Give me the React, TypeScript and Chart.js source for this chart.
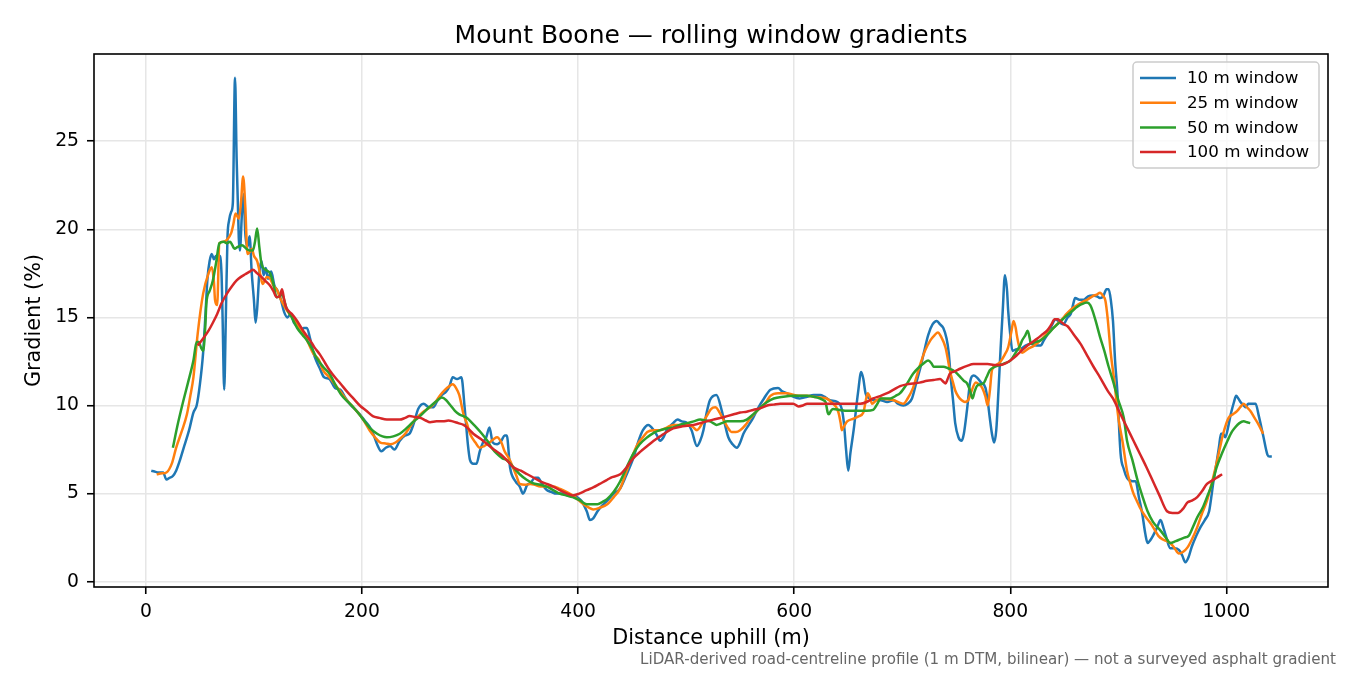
import { useEffect, useRef } from "react";
import Chart from "chart.js/auto";

// 10 m window (raw-ish, noisy)
const dist10 = [
  5, 8, 12, 16, 19, 22, 25, 28, 31, 35, 40, 44, 47, 50, 53, 55, 57, 59, 61, 63,
  65, 67, 68, 70, 71, 72.5, 74, 75.5, 77, 79, 80.5, 82.5, 84, 86, 87, 89, 90.5, 92, 94, 96,
  98, 100, 101.5, 103, 105, 107, 109, 111, 113, 116, 119, 122, 125, 128, 131, 134, 137, 140, 143, 146,
  149, 152, 155, 158, 161, 165, 170, 175, 180, 185, 190, 195, 198, 203, 207, 211, 214, 218, 222, 226,
  230, 235, 240, 244, 248, 252, 257, 262, 266, 270, 274, 278, 281, 284, 288, 292, 295, 298, 300, 303,
  306, 309, 312, 315, 318, 321, 325, 329, 332, 334, 337, 342, 346, 349, 353, 356, 360, 363, 367, 371,
  375, 380, 385, 390, 395, 399, 403, 408, 411, 414, 418, 422, 427, 433, 439, 445, 451, 456, 460, 465,
  470, 473, 476, 479, 482, 488, 492, 496, 501, 505, 510, 513, 516, 519, 522, 528, 533, 536, 539, 543,
  547, 550, 553, 558, 562, 567, 571, 578, 585, 589, 593, 599, 605, 612, 618, 624, 628, 633, 640, 644,
  646, 648, 650, 652, 655, 659, 662, 664, 666, 670, 675, 680, 686, 692, 696, 701, 705, 709, 713, 717,
  720, 724, 728, 732, 735, 738, 741, 743, 745, 747, 749, 752, 755, 757, 760, 763, 766, 769, 773, 777,
  779, 781, 783, 785, 787, 789, 791, 793, 795, 797, 798, 800, 802, 806, 809, 814, 819, 824, 828, 831,
  834, 838, 842, 846, 849, 853, 856, 858, 860, 864, 868, 872, 876, 880, 883, 886, 889, 891, 893, 895,
  897, 899, 902, 905, 908, 913, 916, 919, 922, 925, 927, 930, 932, 936, 939, 942, 944, 948, 952, 956,
  959, 962, 965, 968, 972, 976, 980, 984, 986, 988, 991, 993, 995, 997, 999, 1002, 1004, 1007, 1009, 1011,
  1013, 1016, 1018, 1020, 1023, 1027, 1030, 1034, 1038, 1040, 1042,
];
const grad10 = [
  6.3, 6.25, 6.2, 6.2, 5.8, 5.9, 6.0, 6.3, 6.8, 7.6, 8.6, 9.6, 10.0, 11.2, 13.0, 15.0, 17.2, 18.2, 18.6, 18.3,
  18.5, 18.2, 18.5, 17.5, 15.0, 10.9, 15.0, 19.5, 20.5, 21.0, 21.5, 28.6, 24.0, 19.5, 18.8, 21.0, 22.0, 19.8, 19.0, 19.6,
  17.5, 16.0, 14.7, 15.5, 17.5, 18.2, 17.4, 17.8, 17.2, 17.6, 16.8, 16.5, 16.0, 15.3, 15.0, 15.2, 14.7, 14.5, 14.2, 14.4,
  14.4, 13.8, 13.0, 12.5, 12.1, 11.6, 11.5, 11.0, 10.9, 10.4, 10.0, 9.7, 9.5, 9.1, 8.8, 8.3, 7.8, 7.4, 7.6, 7.7,
  7.5, 8.0, 8.3, 8.4, 9.0, 9.8, 10.1, 9.9, 9.9, 10.3, 10.6, 10.8, 11.1, 11.6, 11.5, 11.6, 9.9, 7.8, 6.9, 6.7,
  6.7, 7.4, 7.9, 8.2, 8.75, 7.9, 7.8, 8.0, 8.3, 8.3, 6.5, 5.7, 5.4, 5.0, 5.5, 5.6, 5.9, 5.9, 5.5, 5.2,
  5.1, 5.0, 5.0, 4.9, 4.9, 4.8, 4.6, 4.0, 3.5, 3.6, 4.0, 4.3, 4.6, 5.0, 5.3, 6.1, 7.0, 8.0, 8.6, 8.9,
  8.6, 8.3, 8.0, 8.2, 8.6, 9.0, 9.2, 9.1, 9.0, 8.6, 7.7, 8.0, 8.6, 9.6, 10.3, 10.6, 9.7, 8.9, 8.2, 7.8,
  7.6, 7.9, 8.4, 8.9, 9.3, 9.9, 10.3, 10.9, 11.0, 10.8, 10.7, 10.5, 10.4, 10.5, 10.6, 10.6, 10.5, 10.3, 10.2, 9.8,
  9.0, 7.5, 6.3, 7.3, 8.6, 10.7, 11.9, 11.5, 10.7, 10.4, 10.3, 10.3, 10.2, 10.3, 10.1, 10.0, 10.1, 10.4, 11.3, 12.2,
  13.0, 14.0, 14.6, 14.8, 14.6, 14.4, 13.8, 13.0, 11.5, 10.3, 9.0, 8.2, 8.0, 8.4, 9.8, 11.4, 11.7, 11.6, 11.3, 11.0,
  10.3, 9.3, 8.4, 7.9, 8.6, 10.8, 13.2, 15.4, 17.4, 16.5, 15.4, 14.0, 13.1, 13.2, 13.2, 13.4, 13.5, 13.4, 13.4, 13.7,
  14.0, 14.5, 14.9, 14.7, 14.6, 15.0, 15.2, 15.7, 16.1, 16.0, 16.0, 16.2, 16.25, 16.2, 16.1, 16.2, 16.6, 16.6, 16.0, 14.8,
  12.5, 10.85, 7.3, 6.4, 5.9, 5.7, 5.7, 4.8, 3.9, 2.7, 2.2, 2.4, 2.6, 3.1, 3.5, 3.0, 2.6, 1.9, 1.9, 1.8,
  1.5, 1.1, 1.4, 2.0, 2.6, 3.1, 3.5, 4.0, 4.8, 5.7, 6.8, 7.6, 8.4, 8.4, 8.2, 8.9, 9.5, 10.2, 10.55, 10.4,
  10.2, 10.0, 9.9, 10.1, 10.1, 10.1, 9.4, 8.3, 7.2, 7.1, 7.1,
];

// 25 m window
const dist25 = [
  10, 15, 19, 24, 28, 33, 38, 41, 44, 48, 53, 58, 61, 63, 64, 66, 68, 72, 75, 79,
  81, 83, 86, 88, 90, 92, 94, 96, 98, 100, 103, 106, 108, 112, 115, 118, 121, 125, 129, 133,
  136, 141, 146, 150, 155, 160, 164, 170, 175, 180, 186, 192, 200, 207, 212, 217, 222, 226, 231, 235,
  240, 244, 249, 254, 258, 263, 268, 272, 277, 281, 284, 287, 290, 294, 297, 300, 305, 309, 313, 318,
  322, 325, 329, 332, 336, 339, 343, 346, 351, 356, 360, 365, 371, 377, 382, 386, 391, 395, 400, 405,
  410, 414, 420, 427, 433, 439, 445, 450, 455, 460, 464, 470, 476, 482, 488, 495, 501, 506, 510, 515,
  519, 523, 527, 531, 534, 538, 542, 546, 550, 555, 559, 564, 569, 574, 578, 585, 593, 600, 606, 612,
  618, 624, 630, 636, 639, 641, 643, 644, 646, 649, 655, 660, 664, 666, 668, 670, 672, 676, 680, 686,
  692, 698, 701, 705, 710, 714, 717, 721, 726, 730, 733, 736, 740, 742, 744, 747, 749, 752, 755, 758,
  761, 764, 768, 771, 774, 777, 779, 781, 783, 787, 791, 795, 798, 801, 803, 805, 806, 808, 811, 816,
  822, 828, 834, 838, 843, 848, 852, 857, 862, 866, 871, 876, 880, 883, 886, 888, 890, 893, 896, 900,
  904, 908, 911, 914, 917, 920, 925, 930, 934, 937, 941, 945, 948, 952, 956, 960, 964, 968, 973, 977,
  982, 986, 990, 994, 997, 1002, 1006, 1010, 1014, 1016, 1019, 1022, 1026, 1029, 1034,
];
const grad25 = [
  6.1, 6.15, 6.2, 6.7, 7.6, 8.5, 9.5, 10.5, 11.6, 14.1, 16.35, 17.5, 17.85, 17.0, 16.0, 15.7, 19.2, 19.3, 19.4, 19.8,
  20.3, 20.9, 20.6, 21.5, 23.0, 21.3, 18.6, 18.7, 18.9, 18.5, 18.2, 17.4, 16.9, 17.3, 17.2, 16.8, 16.6, 16.0, 15.55, 15.2,
  15.0, 14.5, 14.1, 13.6, 12.95, 12.6, 12.0, 11.6, 11.2, 10.8, 10.3, 9.9, 9.3, 8.6, 8.2, 7.9, 7.85, 7.8, 7.9, 8.1,
  8.4, 8.75, 9.2, 9.5, 9.7, 9.9, 10.2, 10.55, 10.9, 11.1, 11.2, 11.0, 10.6, 9.5, 9.0, 8.4, 7.9, 7.6, 7.7, 7.9,
  8.1, 8.2, 7.9, 7.4, 7.0, 6.6, 6.0, 5.55, 5.5, 5.55, 5.5, 5.4, 5.4, 5.4, 5.3, 5.2, 5.05, 4.9, 4.65, 4.4,
  4.2, 4.1, 4.2, 4.4, 4.8, 5.3, 6.3, 7.1, 7.8, 8.2, 8.5, 8.6, 8.6, 8.75, 8.9, 8.9, 8.9, 8.8, 8.6, 9.0,
  9.4, 9.8, 9.9, 9.6, 9.25, 8.8, 8.5, 8.5, 8.6, 8.9, 9.25, 9.6, 9.9, 10.2, 10.55, 10.7, 10.7, 10.6, 10.55, 10.55,
  10.5, 10.45, 10.4, 10.1, 9.9, 9.6, 9.0, 8.6, 8.8, 9.1, 9.25, 9.4, 9.6, 10.2, 10.7, 10.5, 10.1, 10.3, 10.4, 10.35,
  10.3, 10.15, 10.1, 10.4, 11.0, 11.8, 12.4, 13.1, 13.7, 14.0, 14.15, 13.9, 13.3, 12.7, 12.0, 11.3, 10.85, 10.5, 10.3, 10.2,
  10.3, 10.8, 11.3, 11.2, 11.0, 10.5, 10.0, 10.8, 12.0, 12.3, 12.5, 12.9, 13.3, 14.2, 14.8, 14.4, 14.0, 13.4, 13.0, 13.2,
  13.4, 13.7, 14.1, 14.3, 14.6, 14.9, 15.2, 15.5, 15.7, 15.85, 16.0, 16.2, 16.3, 16.4, 16.2, 15.95, 15.0, 12.95, 11.5, 9.3,
  7.9, 6.3, 5.6, 5.0, 4.6, 4.2, 3.7, 3.3, 2.9, 2.6, 2.4, 2.3, 2.2, 1.9, 1.6, 1.7, 1.95, 2.4, 3.1, 3.8,
  4.6, 5.5, 6.5, 7.6, 8.4, 9.3, 9.5, 9.7, 10.0, 10.1, 9.9, 9.7, 9.3, 9.0, 8.4,
];

// 50 m window
const dist50 = [
  25, 29, 34, 39, 44, 47, 49, 51, 53, 55, 56, 59, 62, 65, 68, 72, 75, 78, 80, 82,
  85, 89, 93, 96, 99, 101, 103, 105, 107, 111, 115, 118, 121, 124, 126, 130, 135, 140, 145, 149,
  154, 158, 164, 170, 176, 181, 187, 192, 200, 207, 214, 219, 223, 229, 235, 241, 247, 252, 257, 262,
  266, 270, 274, 278, 282, 286, 290, 297, 302, 306, 311, 316, 320, 325, 330, 334, 340, 346, 352, 358,
  365, 371, 377, 383, 389, 395, 402, 408, 413, 418, 423, 427, 433, 439, 445, 451, 457, 464, 470, 476,
  482, 488, 494, 501, 507, 513, 518, 522, 525, 528, 533, 538, 544, 550, 556, 562, 569, 575, 581, 590,
  599, 606, 612, 618, 624, 627, 629, 631, 632, 634, 636, 642, 649, 655, 661, 667, 673, 677, 680, 685,
  689, 694, 698, 704, 710, 716, 720, 724, 727, 729, 733, 738, 743, 747, 751, 754, 757, 760, 763, 765,
  767, 769, 772, 775, 778, 781, 786, 791, 795, 800, 803, 806, 809, 811, 814, 816, 818, 819, 823, 828,
  834, 840, 846, 852, 857, 862, 866, 871, 874, 876, 879, 883, 887, 891, 895, 900, 905, 908, 913, 918,
  922, 927, 932, 939, 944, 948, 953, 957, 961, 965, 969, 973, 978, 982, 987, 991, 996, 1001, 1005, 1008,
  1012, 1016, 1019, 1022,
];
const grad50 = [
  7.6, 8.8, 10.1, 11.3, 12.55, 13.6, 13.6, 13.3, 13.1, 14.5, 15.8, 16.5, 17.1, 18.1, 19.2, 19.3, 19.2, 19.3, 19.1, 18.9,
  19.0, 19.1, 18.9, 18.8, 18.8, 19.3, 20.05, 19.0, 18.05, 17.7, 17.5, 16.9, 16.15, 16.2, 16.3, 15.55, 15.0, 14.4, 14.0, 13.7,
  13.2, 12.7, 12.2, 11.8, 11.1, 10.6, 10.2, 9.9, 9.3, 8.75, 8.4, 8.25, 8.2, 8.25, 8.4, 8.7, 9.05, 9.3, 9.6, 9.9,
  10.1, 10.3, 10.45, 10.3, 10.0, 9.7, 9.5, 9.3, 9.0, 8.75, 8.4, 8.0, 7.6, 7.25, 7.0, 6.9, 6.5, 6.1, 5.8, 5.6,
  5.5, 5.4, 5.2, 5.0, 4.9, 4.8, 4.6, 4.4, 4.4, 4.4, 4.55, 4.7, 5.1, 5.7, 6.5, 7.25, 7.8, 8.2, 8.45, 8.6,
  8.7, 8.75, 8.9, 9.0, 9.1, 9.2, 9.15, 9.1, 9.0, 8.9, 9.0, 9.1, 9.1, 9.1, 9.2, 9.5, 9.9, 10.2, 10.4, 10.5,
  10.55, 10.55, 10.55, 10.5, 10.4, 10.3, 10.2, 9.6, 9.5, 9.7, 9.8, 9.75, 9.7, 9.7, 9.7, 9.7, 9.75, 10.1, 10.4, 10.4,
  10.4, 10.55, 10.7, 11.2, 11.8, 12.2, 12.4, 12.55, 12.4, 12.2, 12.2, 12.2, 12.1, 12.0, 11.8, 11.6, 11.4, 11.25, 10.8, 10.4,
  10.8, 11.1, 11.2, 11.25, 11.6, 12.0, 12.2, 12.3, 12.4, 12.55, 12.8, 13.1, 13.4, 13.7, 14.0, 14.25, 13.8, 13.5, 13.6, 13.7,
  14.0, 14.4, 14.75, 15.1, 15.35, 15.6, 15.75, 15.85, 15.7, 15.4, 14.8, 13.9, 13.1, 12.2, 11.4, 10.3, 9.3, 8.0, 6.9, 5.7,
  4.9, 4.0, 3.4, 2.9, 2.5, 2.2, 2.3, 2.4, 2.5, 2.6, 3.1, 3.65, 4.2, 4.8, 5.6, 6.5, 7.3, 8.0, 8.5, 8.75,
  9.0, 9.1, 9.05, 9.0,
];

// 100 m window
const dist100 = [
  48, 53, 58, 62, 66, 70, 75, 80, 84, 88, 92, 96, 99, 103, 107, 111, 115, 118, 121, 124,
  126, 128, 130, 135, 140, 146, 152, 156, 161, 166, 170, 175, 180, 186, 192, 198, 204, 210, 216, 223,
  229, 235, 240, 244, 249, 254, 259, 263, 269, 275, 280, 284, 289, 294, 299, 303, 310, 316, 322, 328,
  334, 340, 347, 353, 359, 365, 371, 377, 383, 390, 395, 401, 408, 414, 420, 426, 430, 439, 445, 451,
  458, 464, 470, 476, 482, 488, 495, 501, 507, 513, 519, 525, 532, 538, 544, 550, 556, 562, 569, 575,
  581, 587, 593, 599, 604, 608, 612, 618, 624, 630, 637, 643, 649, 655, 661, 667, 673, 680, 686, 692,
  698, 704, 710, 716, 723, 729, 735, 738, 740, 742, 744, 749, 754, 760, 766, 772, 779, 785, 791, 796,
  800, 806, 812, 818, 825, 830, 834, 838, 841, 844, 846, 850, 853, 859, 865, 871, 877, 883, 890, 895,
  902, 908, 914, 920, 926, 932, 938, 945, 950, 955, 960, 964, 968, 973, 977, 982, 987, 991, 996,
];
const grad100 = [
  13.4, 13.8, 14.25, 14.7, 15.2, 15.8, 16.35, 16.8, 17.1, 17.3, 17.45, 17.6, 17.7, 17.5, 17.3, 17.05, 16.8, 16.5, 16.15, 16.2,
  16.6, 16.0, 15.55, 15.2, 14.8, 14.2, 13.7, 13.3, 12.9, 12.4, 12.0, 11.6, 11.25, 10.8, 10.4, 10.0, 9.7, 9.4, 9.3, 9.2,
  9.2, 9.2, 9.3, 9.4, 9.35, 9.3, 9.15, 9.05, 9.1, 9.1, 9.15, 9.1, 9.0, 8.9, 8.65, 8.4, 8.1, 7.8, 7.5, 7.25,
  6.9, 6.5, 6.3, 6.1, 5.9, 5.7, 5.55, 5.4, 5.2, 5.0, 4.9, 5.0, 5.2, 5.35, 5.55, 5.75, 5.9, 6.1, 6.5, 7.0,
  7.4, 7.7, 8.0, 8.25, 8.5, 8.7, 8.8, 8.85, 8.9, 9.0, 9.1, 9.2, 9.3, 9.4, 9.5, 9.6, 9.65, 9.75, 9.85, 10.0,
  10.05, 10.1, 10.1, 10.1, 9.95, 10.0, 10.1, 10.1, 10.1, 10.1, 10.1, 10.1, 10.1, 10.1, 10.1, 10.2, 10.4, 10.55, 10.7, 10.9,
  11.1, 11.2, 11.25, 11.3, 11.4, 11.45, 11.5, 11.35, 11.25, 11.5, 11.8, 11.95, 12.1, 12.25, 12.35, 12.35, 12.35, 12.3, 12.3, 12.4,
  12.55, 12.85, 13.2, 13.5, 13.8, 14.05, 14.25, 14.6, 14.9, 14.9, 14.8, 14.6, 14.5, 14.0, 13.5, 12.85, 12.2, 11.6, 10.85, 10.4,
  9.5, 8.75, 8.0, 7.25, 6.5, 5.7, 4.9, 4.0, 3.9, 3.9, 4.15, 4.5, 4.6, 4.8, 5.1, 5.55, 5.75, 5.9, 6.1,
];

const seriesLabels = ["10 m window", "25 m window", "50 m window", "100 m window"];
const seriesColors = ["#1f77b4", "#ff7f0e", "#2ca02c", "#d62728"];
const xTicks = [0, 200, 400, 600, 800, 1000];
const yTicks = [0, 5, 10, 15, 20, 25];
const chartTitle = "Mount Boone — rolling window gradients";
const footnote =
  "LiDAR-derived road-centreline profile (1 m DTM, bilinear) — not a surveyed asphalt gradient";

const FONT = "'DejaVu Sans', sans-serif";

const toPoints = (xs: number[], ys: number[]) => xs.map((x, i) => ({ x, y: ys[i] }));

// title, footnote, full axes frame and the in-axes legend
const decorations = {
  id: "decorations",
  afterDraw(chart: Chart) {
    const { ctx, chartArea: a } = chart;
    ctx.save();

    ctx.strokeStyle = "#000";
    ctx.lineWidth = 1.6;
    ctx.strokeRect(a.left, a.top, a.right - a.left, a.bottom - a.top);

    ctx.fillStyle = "#000";
    ctx.font = `25px ${FONT}`;
    ctx.textAlign = "center";
    ctx.textBaseline = "alphabetic";
    ctx.fillText(chartTitle, (a.left + a.right) / 2, 43);

    ctx.fillStyle = "#666";
    ctx.font = `15.1px ${FONT}`;
    ctx.textAlign = "right";
    ctx.fillText(footnote, 1336, 664);

    // legend box
    const boxW = 186;
    const boxH = 106;
    const bx = a.right - 9 - boxW;
    const by = a.top + 8;
    ctx.beginPath();
    ctx.roundRect(bx, by, boxW, boxH, 4);
    ctx.fillStyle = "rgba(255,255,255,0.8)";
    ctx.fill();
    ctx.strokeStyle = "#cccccc";
    ctx.lineWidth = 1.5;
    ctx.stroke();

    ctx.font = `16.7px ${FONT}`;
    ctx.textAlign = "left";
    ctx.textBaseline = "middle";
    seriesLabels.forEach((label, i) => {
      const y = by + 16 + i * 24.7;
      ctx.strokeStyle = seriesColors[i];
      ctx.lineWidth = 2.5;
      ctx.beginPath();
      ctx.moveTo(bx + 7, y);
      ctx.lineTo(bx + 43, y);
      ctx.stroke();
      ctx.fillStyle = "#000";
      ctx.fillText(label, bx + 54, y + 1);
    });

    ctx.restore();
  },
};

const App = () => {
  const canvasRef = useRef<HTMLCanvasElement>(null);
  const chartRef = useRef<Chart | null>(null);

  useEffect(() => {
    document.body.style.margin = "0";
    if (!canvasRef.current) return;
    if (chartRef.current) chartRef.current.destroy();

    Chart.defaults.font.family = FONT;
    Chart.defaults.color = "#000";

    const series = [
      toPoints(dist10, grad10),
      toPoints(dist25, grad25),
      toPoints(dist50, grad50),
      toPoints(dist100, grad100),
    ];

    const gridCfg = {
      color: "#e6e6e6",
      lineWidth: 1.5,
      tickColor: "#000",
      tickWidth: 1.6,
      tickLength: 7,
      drawTicks: true,
    };

    chartRef.current = new Chart(canvasRef.current, {
      type: "line",
      data: {
        datasets: series.map((data, i) => ({
          label: seriesLabels[i],
          data,
          borderColor: seriesColors[i],
          backgroundColor: seriesColors[i],
          borderWidth: 2.5,
          pointRadius: 0,
          cubicInterpolationMode: "monotone" as const,
          fill: false,
          order: 4 - i,
        })),
      },
      options: {
        animation: false,
        responsive: true,
        maintainAspectRatio: false,
        layout: { padding: { top: 54, right: 22, bottom: 0, left: 0 } },
        plugins: {
          legend: { display: false },
          title: { display: false },
          tooltip: { enabled: false },
        },
        scales: {
          x: {
            type: "linear",
            min: -48,
            max: 1094,
            afterBuildTicks: (s: any) => {
              s.ticks = xTicks.map((v) => ({ value: v }));
            },
            afterFit: (s: any) => {
              s.height = 88;
            },
            grid: gridCfg,
            border: { display: false },
            ticks: {
              font: { size: 18.75 },
              color: "#000",
              padding: 7,
              maxRotation: 0,
              autoSkip: false,
              callback: (v: any) => String(v),
            },
            title: {
              display: true,
              text: "Distance uphill (m)",
              font: { size: 20.8 },
              color: "#000",
              padding: { top: 0, bottom: 24 },
            },
          },
          y: {
            type: "linear",
            min: -0.3,
            max: 29.95,
            afterBuildTicks: (s: any) => {
              s.ticks = yTicks.map((v) => ({ value: v }));
            },
            afterFit: (s: any) => {
              s.width = 94;
            },
            grid: gridCfg,
            border: { display: false },
            ticks: {
              font: { size: 18.75 },
              color: "#000",
              padding: 8,
              autoSkip: false,
              callback: (v: any) => String(v),
            },
            title: {
              display: true,
              text: "Gradient (%)",
              font: { size: 20.8 },
              color: "#000",
              padding: { top: 22, bottom: 0 },
            },
          },
        },
      },
      plugins: [decorations],
    });

    return () => {
      if (chartRef.current) {
        chartRef.current.destroy();
        chartRef.current = null;
      }
    };
  }, []);

  return (
    <div style={{ width: 1350, height: 675, position: "relative", background: "#fff" }}>
      <canvas ref={canvasRef}></canvas>
    </div>
  );
};

export default App;
